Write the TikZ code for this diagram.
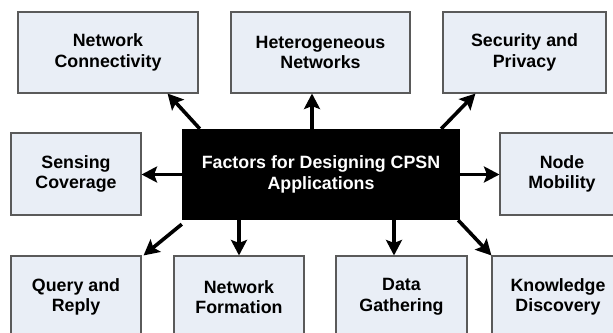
\documentclass[tikz,border=0pt]{standalone}
\usepackage{fontspec}
\setmainfont{Liberation Sans}
\usetikzlibrary{arrows.meta}
\definecolor{boxfill}{HTML}{E9EEF6}
\definecolor{boxline}{HTML}{5A5A5A}
\tikzset{
  factor/.style={draw=boxline, line width=1.1pt, fill=boxfill, align=center,
    inner sep=0pt, minimum height=82pt,
    font=\fontsize{17.8}{20.5}\selectfont\bfseries},
  hub/.style={fill=black, text=white, align=center, inner sep=0pt,
    minimum width=278pt, minimum height=91pt,
    font=\fontsize{17.8}{20.5}\selectfont\bfseries},
  link/.style={line width=3.6pt, -{Stealth[length=15.5pt,width=16pt,inset=3pt]}}
}
\begin{document}
\begin{tikzpicture}[x=1pt,y=-1pt]
\useasboundingbox (0,0) rectangle (613,332);
\clip (0,0) rectangle (613,332);
\fill[white] (0,0) rectangle (613,332);
\node[factor, minimum width=180pt, minimum height=81pt] (nc) at (108,52.5) {Network\\Connectivity};
\node[factor, minimum width=179pt, minimum height=81pt] (hn) at (320.5,52.5) {Heterogeneous\\Networks};
\node[factor, minimum width=163pt, minimum height=81pt] (sp) at (524.5,52.5) {Security and\\Privacy};
\node[factor, minimum width=130pt] (sc) at (76,174) {Sensing\\Coverage};
\node[hub] (c) at (321,174.5) {Factors for Designing CPSN\\Applications};
\node[factor, minimum width=124pt] (nm) at (562,174) {Node\\Mobility};
\node[factor, minimum width=130pt] (qr) at (76,297) {Query and\\Reply};
\node[factor, minimum width=130pt] (nf) at (239,297) {Network\\Formation};
\node[factor, minimum width=131pt] (dg) at (401.5,297) {Data\\Gathering};
\node[factor, minimum width=132pt] (kd) at (558,297) {Knowledge\\Discovery};
\draw[link] ([xshift=18pt]c.north west) -- ([xshift=-31pt]nc.south east);
\draw[link] ([xshift=-9pt]c.north) -- ([xshift=-9pt]c.north |- hn.south);
\draw[link] ([xshift=-19pt]c.north east) -- ([xshift=33pt]sp.south west);
\draw[link] (c.west) -- (c.west -| sc.east);
\draw[link] (c.east) -- (c.east -| nm.west);
\draw[link] ([yshift=-4pt]c.south west) -- ([xshift=2pt]qr.north east);
\draw[link] (c.south -| nf.north) -- (nf.north);
\draw[link] ([xshift=-7.5pt]dg.north |- c.south) -- ([xshift=-7.5pt]dg.north);
\draw[link] ([xshift=-2pt]c.south east) -- (kd.north west);
\end{tikzpicture}
\end{document}
